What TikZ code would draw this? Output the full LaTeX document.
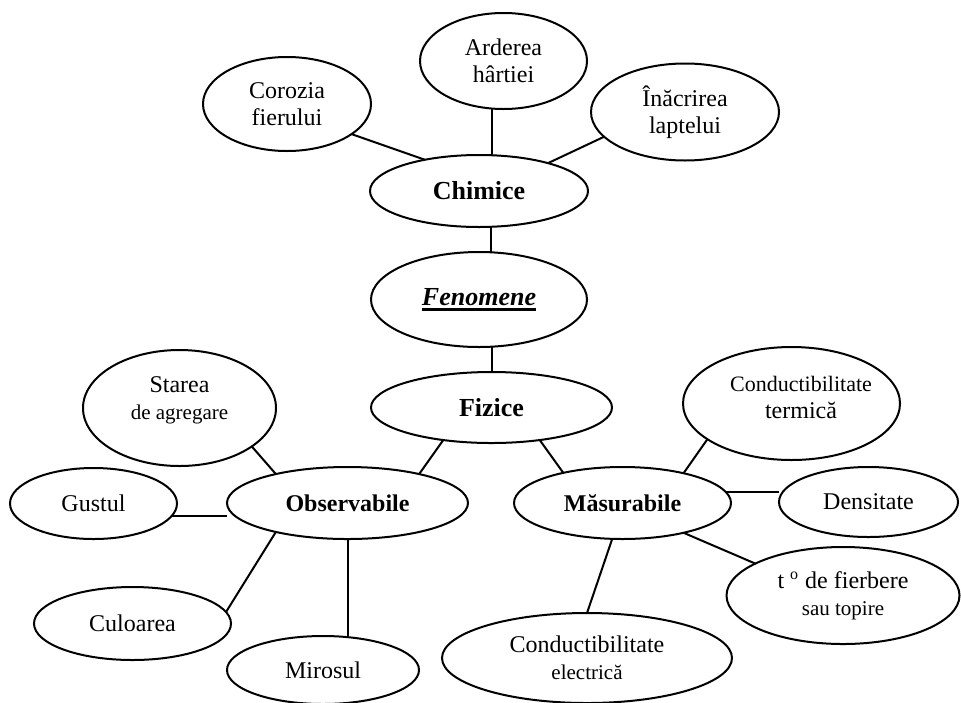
\documentclass[tikz,border=0pt]{standalone}
\usepackage{fontspec}
\setmainfont{Liberation Serif}
\usetikzlibrary{shapes.geometric}

\newcommand{\mic}{\fontsize{10.5}{12}\selectfont}
\newcommand{\subliniat}[1]{\setbox0\hbox{#1}\rlap{\rule[-2.6pt]{\wd0}{1.3pt}}\box0}

\begin{document}
\begin{tikzpicture}[
    x=0.5pt, y=-0.5pt, line width=1pt,
    txt/.style={align=center,font=\fontsize{12}{13.5}\selectfont},
    bub/.style={draw,ellipse,inner sep=0pt,outer sep=0pt,txt},
    cat/.style={bub,font=\bfseries\fontsize{13}{15}\selectfont},
    grp/.style={bub,font=\bfseries\fontsize{12}{14}\selectfont}
]
\path[use as bounding box] (0,0) rectangle (961,702);

% chemical phenomena
\node[bub,minimum width=84pt,minimum height=47pt] (coro) at (287,104) {Corozia\\fierului};
\node[bub,minimum width=83.5pt,minimum height=48pt] (ard) at (503.5,61) {Arderea\\hârtiei};
\node[bub,minimum width=94pt,minimum height=48.5pt] (inac) at (685,112) {Înăcrirea\\laptelui};
\node[cat,minimum width=109pt,minimum height=36pt] (chim) at (479,191) {Chimice};
\node[cat,minimum width=108pt,minimum height=47.5pt] (fen) at (479,299.5) {\subliniat{\textit{Fenomene}}};
\node[cat,minimum width=120.5pt,minimum height=35.5pt] (fiz) at (491.5,407.5) {Fizice};

% observable properties
\node[bub,minimum width=96.5pt,minimum height=58pt,
    label={[txt,yshift=4pt]center:{Starea\\{\mic de agregare}}}] (sta) at (179.5,408) {};
\node[bub,minimum width=83.5pt,minimum height=35.5pt] (gus) at (93.5,503.5) {Gustul};
\node[grp,minimum width=120.5pt,minimum height=36pt] (obs) at (347.5,503) {Observabile};
\node[bub,minimum width=98.5pt,minimum height=36.5pt] (cul) at (132.5,623.5) {Culoarea};
\node[bub,minimum width=96pt,minimum height=34pt] (mir) at (323,670) {Mirosul};

% measurable properties
\node[grp,minimum width=108.5pt,minimum height=36pt] (mas) at (622.5,503) {Măsurabile};
\node[bub,minimum width=108.5pt,minimum height=56.5pt,
    label={[txt,xshift=4.75pt,yshift=3.25pt]center:{{\fontsize{11}{13}\selectfont Conductibilitate}\\termică}}] (cte) at (791.5,403.5) {};
\node[bub,minimum width=89.5pt,minimum height=35pt] (den) at (868.5,502) {Densitate};
\node[bub,minimum width=116.5pt,minimum height=48.5pt] (tfi) at (843,595.5) {t \textsuperscript{o} de fierbere\\{\mic sau topire}};
\node[bub,minimum width=145pt,minimum height=45pt] (cel) at (587,658) {Conductibilitate\\{\mic electrică}};

% slanted links
\foreach \a/\b in {coro.-25/chim.150, inac.197/chim.22, fiz.214/obs.22, fiz.-34/mas.153,
    sta.-28/obs.158, obs.-158/cul.7, mas.26/cte.-157, mas.-26/tfi.160, mas.-106/cel.north}
    \draw (\a) -- (\b);
% straight links
\draw (chim.70) -- (chim.70 |- ard.south);
\draw (chim.-72) -- (chim.-72 |- fen.north);
\draw (fiz.north) -- (fiz.north |- fen.south);
\draw (gus.-9) -- (gus.-9 -| obs.west);
\draw (obs.south) -- (obs.south |- mir.north);
\draw (mas.6) -- (mas.6 -| den.west);
\end{tikzpicture}
\end{document}
